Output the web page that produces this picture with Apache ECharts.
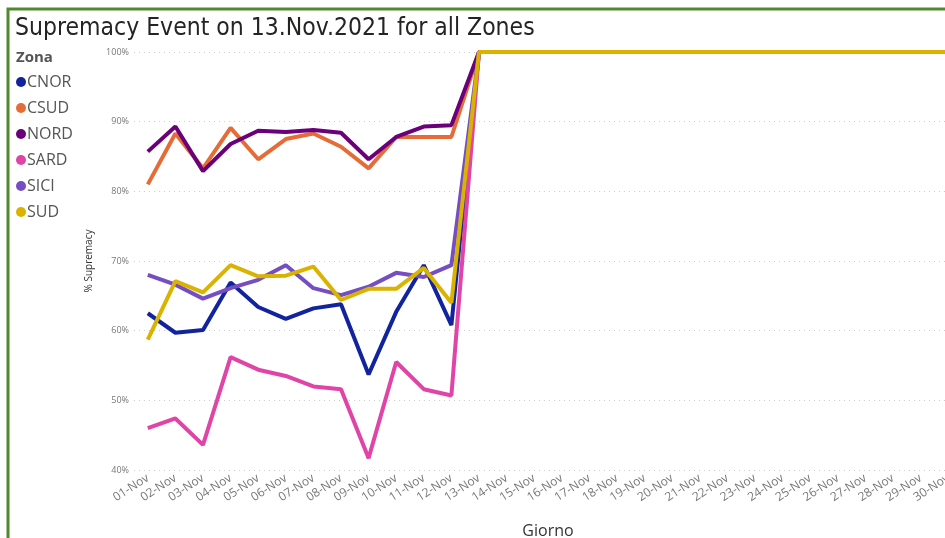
<!DOCTYPE html>
<html>
<head>
<meta charset="utf-8">
<script src="https://cdn.jsdelivr.net/npm/echarts@6/dist/echarts.min.js"></script>
<style>
  html, body { margin: 0; padding: 0; background: #fff; }
  #main { width: 945px; height: 538px; }
</style>
</head>
<body>
<div id="main"></div>
<script>
// giorni di novembre
var days = ['01-Nov', '02-Nov', '03-Nov', '04-Nov', '05-Nov', '06-Nov', '07-Nov', '08-Nov',
    '09-Nov', '10-Nov', '11-Nov', '12-Nov', '13-Nov', '14-Nov', '15-Nov', '16-Nov', '17-Nov',
    '18-Nov', '19-Nov', '20-Nov', '21-Nov', '22-Nov', '23-Nov', '24-Nov', '25-Nov', '26-Nov',
    '27-Nov', '28-Nov', '29-Nov', '30-Nov'];

var zones = ['CNOR', 'CSUD', 'NORD', 'SARD', 'SICI', 'SUD'];
var zoneColors = ['#12239E', '#E66C37', '#6B007B', '#E044A7', '#744EC2', '#D9B300'];

// % supremacy 01-Nov .. 12-Nov, poi 100 dal 13-Nov al 30-Nov
var cnor = [62.5, 59.7, 60.1, 66.9, 63.4, 61.7, 63.2, 63.8, 53.7, 62.7, 69.4, 60.8,
    100, 100, 100, 100, 100, 100, 100, 100, 100, 100, 100, 100, 100, 100, 100, 100, 100, 100];
var csud = [81.0, 88.3, 83.3, 89.1, 84.6, 87.5, 88.3, 86.4, 83.3, 87.8, 87.8, 87.8,
    100, 100, 100, 100, 100, 100, 100, 100, 100, 100, 100, 100, 100, 100, 100, 100, 100, 100];
var nord = [85.7, 89.3, 82.9, 86.8, 88.7, 88.5, 88.8, 88.4, 84.6, 87.8, 89.3, 89.5,
    100, 100, 100, 100, 100, 100, 100, 100, 100, 100, 100, 100, 100, 100, 100, 100, 100, 100];
var sard = [46.0, 47.4, 43.6, 56.2, 54.4, 53.5, 52.0, 51.6, 41.7, 55.5, 51.6, 50.7,
    100, 100, 100, 100, 100, 100, 100, 100, 100, 100, 100, 100, 100, 100, 100, 100, 100, 100];
var sici = [68.0, 66.6, 64.6, 66.1, 67.3, 69.4, 66.1, 65.1, 66.3, 68.3, 67.7, 69.4,
    100, 100, 100, 100, 100, 100, 100, 100, 100, 100, 100, 100, 100, 100, 100, 100, 100, 100];
var sud = [58.7, 67.1, 65.5, 69.4, 67.8, 67.9, 69.2, 64.4, 66.0, 66.0, 69.0, 64.0,
    100, 100, 100, 100, 100, 100, 100, 100, 100, 100, 100, 100, 100, 100, 100, 100, 100, 100];
var values = [cnor, csud, nord, sard, sici, sud];

var yTicks = [40, 50, 60, 70, 80, 90, 100];

var series = zones.map(function (z, i) {
    return {
        name: z,
        type: 'line',
        data: values[i],
        symbol: 'none',
        lineStyle: { width: 4, color: zoneColors[i] },
        itemStyle: { color: zoneColors[i] }
    };
});

option = {
    animation: false,
    backgroundColor: '#fff',
    title: [{
        text: 'Supremacy Event on 13.Nov.2021 for all Zones',
        left: 10,
        top: 11,
        textStyle: {
            fontFamily: 'DejaVu Sans Condensed',
            fontWeight: 'normal',
            fontSize: 24.5,
            color: '#252423'
        }
    }, {
        text: 'Zona',
        left: 11,
        top: 45,
        textStyle: {
            fontFamily: 'Open Sans',
            fontWeight: 'bold',
            fontSize: 15,
            color: '#555'
        }
    }],
    legend: {
        orient: 'vertical',
        left: 11,
        top: 66,
        itemGap: 4,
        itemWidth: 10,
        itemHeight: 10,
        icon: 'circle',
        data: zones,
        textStyle: {
            fontFamily: 'Open Sans',
            fontSize: 16,
            lineHeight: 22,
            color: '#555',
            padding: [0, 0, 0, -4]
        }
    },
    grid: {
        left: 134,
        top: 52,
        width: 828,
        height: 418,
        outerBoundsMode: 'none',
        containLabel: false
    },
    xAxis: {
        type: 'category',
        data: days,
        boundaryGap: true,
        name: 'Giorno',
        nameLocation: 'middle',
        nameGap: 53,
        nameTextStyle: {
            fontFamily: 'Open Sans',
            fontSize: 16,
            color: '#333'
        },
        axisLine: { show: false },
        axisTick: { show: false },
        axisLabel: {
            rotate: 33,
            interval: 0,
            margin: 7,
            fontFamily: 'Open Sans',
            fontSize: 12,
            color: '#777'
        }
    },
    yAxis: {
        type: 'value',
        min: yTicks[0],
        max: yTicks[yTicks.length - 1],
        interval: 10,
        name: '% Supremacy',
        nameLocation: 'middle',
        nameGap: 40,
        nameTextStyle: {
            fontFamily: 'Open Sans',
            fontSize: 10,
            color: '#333'
        },
        axisLabel: {
            formatter: '{value}%',
            fontFamily: 'Open Sans',
            fontSize: 9,
            color: '#777',
            margin: 5
        },
        axisLine: { show: false },
        axisTick: { show: false },
        splitLine: {
            lineStyle: { type: [1, 4], color: '#ccc', width: 1 }
        }
    },
    graphic: [{
        type: 'rect',
        shape: { x: 8, y: 9, width: 950, height: 600 },
        style: { fill: 'none', stroke: '#4E8A2E', lineWidth: 3 },
        z: 100
    }],
    series: series
};

var myChart = echarts.init(document.getElementById('main'));
myChart.setOption(option);
</script>
</body>
</html>
